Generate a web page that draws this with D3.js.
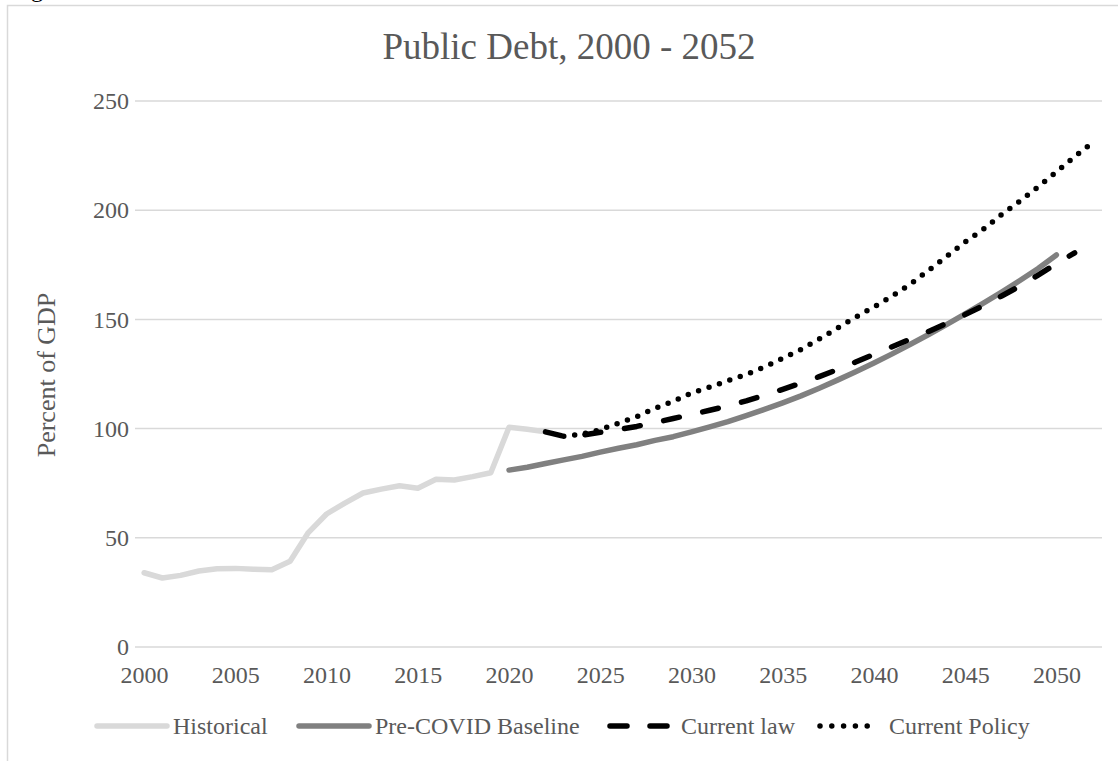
<!DOCTYPE html>
<html>
<head>
<meta charset="utf-8">
<script src="https://cdn.jsdelivr.net/npm/d3@7"></script>
<style>
  body { margin: 0; background: #fff; }
  text { font-family: "Liberation Serif", "Times New Roman", serif; fill: #595959; }
</style>
</head>
<body>
<svg id="chart"></svg>
<script>
const width = 1118, height = 761;

// categories
const years = d3.range(2000, 2053);
const xTicks = [2000, 2005, 2010, 2015, 2020, 2025, 2030, 2035, 2040, 2045, 2050];
const yTicks = [0, 50, 100, 150, 200, 250];

// series (percent of GDP), each with its first year
const historicalStart = 2000;
const historical = [34.0, 31.6, 32.8, 34.8, 35.8, 36.0, 35.6, 35.4, 39.3, 52.4, 60.9, 65.9, 70.5, 72.3, 73.8, 72.7, 76.8, 76.5, 78.0, 79.8, 100.6, 99.7, 98.5];

const baselineStart = 2020;
const baseline = [81.0, 82.3, 84.0, 85.7, 87.3, 89.2, 91.0, 92.6, 94.6, 96.3, 98.5, 100.8, 103.2, 105.9, 108.8, 111.8, 115.0, 118.5, 122.2, 126.0, 130.0, 134.2, 138.6, 143.1, 147.7, 152.5, 157.4, 162.5, 167.8, 173.3, 179.5];

const lawStart = 2022;
const currentLaw = [98.5, 96.5, 97.0, 98.3, 99.6, 101.0, 102.8, 104.6, 106.5, 108.4, 110.4, 112.7, 115.3, 118.0, 120.8, 123.8, 127.0, 130.5, 134.0, 137.5, 141.0, 144.5, 148.3, 152.2, 156.3, 160.7, 165.3, 170.3, 175.5, 180.5];

const policyStart = 2023;
const currentPolicy = [96.5, 97.5, 99.5, 102.5, 105.5, 109.3, 112.5, 116.3, 119.0, 122.0, 124.8, 128.2, 132.2, 136.2, 141.0, 146.0, 151.0, 155.7, 160.7, 166.2, 172.5, 179.0, 185.5, 191.3, 198.0, 204.2, 210.7, 217.5, 224.5, 231.0];

const seriesNames = ["Historical", "Pre-COVID Baseline", "Current law", "Current Policy"];

const styles = [
  { color: "#d9d9d9", dash: null },
  { color: "#808080", dash: null },
  { color: "#000000", dash: "16 24" },
  { color: "#000000", dash: "0 11" }
];

const toPoints = (start, vals) => vals.map((v, i) => ({ year: start + i, value: v }));
const series = [
  toPoints(historicalStart, historical),
  toPoints(baselineStart, baseline),
  toPoints(lawStart, currentLaw),
  toPoints(policyStart, currentPolicy)
];

const svg = d3.select("#chart")
  .attr("width", width)
  .attr("height", height);

// outer frame (only left and top edges are visible)
svg.append("path")
  .attr("d", "M7.5,761 V5.5 H1118")
  .attr("fill", "none")
  .attr("stroke", "#d9d9d9")
  .attr("stroke-width", 1.5);

// cut-off caption above the frame
svg.append("text")
  .attr("x", 31)
  .attr("y", -3)
  .style("font-size", "24px")
  .style("fill", "#000")
  .text("g");

const plot = { left: 135, right: 1102, top: 101, bottom: 647 };

const x = d3.scalePoint()
  .domain(years)
  .range([plot.left, plot.right])
  .padding(0.5);

const y = d3.scaleLinear()
  .domain([0, 250])
  .range([plot.bottom, plot.top]);

// gridlines
svg.append("g")
  .selectAll("line")
  .data(yTicks)
  .join("line")
  .attr("x1", plot.left)
  .attr("x2", plot.right)
  .attr("y1", d => y(d))
  .attr("y2", d => y(d))
  .attr("stroke", "#d9d9d9")
  .attr("stroke-width", 1.5);

// axes
const yAxis = svg.append("g")
  .attr("transform", `translate(${plot.left},0)`)
  .call(d3.axisLeft(y).tickValues(yTicks).tickSize(0).tickPadding(6));
yAxis.select(".domain").remove();
yAxis.selectAll("text")
  .style("font-size", "24px")
  .style("font-family", "Liberation Serif")
  .attr("fill", "#595959");

const xAxis = svg.append("g")
  .attr("transform", `translate(0,${plot.bottom})`)
  .call(d3.axisBottom(x).tickValues(xTicks).tickSize(0).tickPadding(19));
xAxis.select(".domain").remove();
xAxis.selectAll("text")
  .style("font-size", "24px")
  .style("font-family", "Liberation Serif")
  .attr("fill", "#595959");

// title
svg.append("text")
  .attr("x", 569)
  .attr("y", 59)
  .attr("text-anchor", "middle")
  .style("font-size", "37px")
  .text("Public Debt, 2000 - 2052");

// y axis title
svg.append("text")
  .attr("transform", "translate(55,375) rotate(-90)")
  .attr("text-anchor", "middle")
  .style("font-size", "26px")
  .text("Percent of GDP");

// lines
const line = d3.line()
  .x(d => x(d.year))
  .y(d => y(d.value));

svg.append("g")
  .selectAll("path")
  .data(series)
  .join("path")
  .attr("d", line)
  .attr("fill", "none")
  .attr("stroke", (d, i) => styles[i].color)
  .attr("stroke-width", 5.5)
  .attr("stroke-linecap", "round")
  .attr("stroke-linejoin", "round")
  .attr("stroke-dasharray", (d, i) => styles[i].dash);

// legend
const legendItems = [
  { x1: 97, x2: 167, tx: 173 },
  { x1: 299, x2: 369, tx: 375 },
  { x1: 610, x2: 670, tx: 681 },
  { x1: 820, x2: 879, tx: 889 }
];
const legendY = 726;

const lg = svg.append("g")
  .selectAll("g")
  .data(seriesNames)
  .join("g");

lg.append("line")
  .attr("x1", (d, i) => legendItems[i].x1)
  .attr("x2", (d, i) => legendItems[i].x2)
  .attr("y1", legendY)
  .attr("y2", legendY)
  .attr("stroke", (d, i) => styles[i].color)
  .attr("stroke-width", 5.5)
  .attr("stroke-linecap", "round")
  .attr("stroke-dasharray", (d, i) => i === 2 ? "17 23" : (i === 3 ? "0 11.8" : null));

lg.append("text")
  .attr("x", (d, i) => legendItems[i].tx)
  .attr("y", legendY + 8)
  .style("font-size", "24px")
  .text(d => d);
</script>
</body>
</html>
